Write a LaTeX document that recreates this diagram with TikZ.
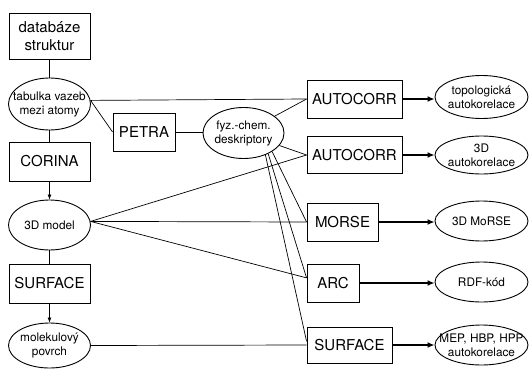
\documentclass[tikz,border=0pt]{standalone}
\usepackage{fontspec}
\setmainfont{TeX Gyre Heros}
\usetikzlibrary{arrows.meta, shapes.geometric}
\tikzstyle{box_node} = [
    rectangle, 
    draw=black, 
    line width=0.9pt, 
    align=center, 
    inner sep=0pt, 
    font=\fontsize{15}{18}\selectfont
]
\tikzstyle{ell_node} = [
    ellipse, 
    draw=black, 
    line width=0.9pt, 
    align=center, 
    inner xsep=-14pt, % keeps the ellipse at its minimum size
    inner ysep=-4pt, 
    font=\fontsize{11.8}{14}\selectfont
]
\tikzstyle{link} = [
    line width=0.7pt
]
\tikzstyle{step_arrow} = [
    line width=0.7pt, 
    -{Latex[length=5pt, width=4pt]}
]
\tikzstyle{out_arrow} = [
    line width=1.7pt, 
    -{Latex[length=7pt, width=6pt]}
]
\begin{document}
\begin{tikzpicture}[x=1pt, y=-1pt]
\useasboundingbox (0,0) rectangle (529,369);
% left column
\node [box_node, minimum width=81pt, minimum height=46pt] (db) at (49.5,36) {databáze\\struktur};
\node [ell_node, minimum width=82pt, minimum height=52pt] (tab) at (49.5,104) {tabulka vazeb\\mezi atomy};
\node [box_node, minimum width=81pt, minimum height=39pt] (corina) at (49.5,161.5) {CORINA};
\node [ell_node, minimum width=82pt, minimum height=50pt] (model) at (49.5,225) {3D model};
\node [box_node, minimum width=81pt, minimum height=39pt] (surf_l) at (49.5,283.5) {SURFACE};
\node [ell_node, minimum width=82pt, minimum height=45pt] (povrch) at (49.5,345.5) {molekulový\\povrch};
% middle
\node [box_node, minimum width=62pt, minimum height=38pt] (petra) at (144,132) {PETRA};
\node [ell_node, minimum width=81pt, minimum height=51pt] (fyz) at (243.5,133) {fyz.-chem.\\deskriptory};
% programs
\node [box_node, minimum width=95pt, minimum height=38pt] (ac1) at (354.5,99) {AUTOCORR};
\node [box_node, minimum width=95pt, minimum height=37pt] (ac2) at (354.5,155) {AUTOCORR};
\node [box_node, minimum width=71pt, minimum height=38pt] (morse) at (342.5,222) {MORSE};
\node [box_node, minimum width=52pt, minimum height=38pt] (arc) at (333,283) {ARC};
\node [box_node, minimum width=85pt, minimum height=36pt] (surf_r) at (349.5,345) {SURFACE};
% results
\node [ell_node, minimum width=93pt, minimum height=43pt] (topo) at (481.5,97) {topologická\\autokorelace};
\node [ell_node, minimum width=93pt, minimum height=38pt] (auto3d) at (481.5,155) {3D\\autokorelace};
\node [ell_node, minimum width=93pt, minimum height=40pt] (mo3d) at (481.5,221) {3D MoRSE};
\node [ell_node, minimum width=93pt, minimum height=40pt] (rdf) at (481.5,282) {RDF-kód};
\node [ell_node, minimum width=93pt, minimum height=40pt] (mep) at (481.5,345) {MEP, HBP, HPP\\autokorelace};

\draw [link] (db) -- (tab);
\draw [link] (tab) -- (corina);
\draw [step_arrow] (corina) -- (model);
\draw [link] (model) -- (surf_l);
\draw [step_arrow] (surf_l) -- (povrch);

\draw [link] (tab.5) -- (ac1.west);
\draw [link] (tab.5) -- (petra.west);
\draw [link] (petra.east) -- (petra.east -| fyz.west);
\draw [link] (fyz) -- (ac1.west);
\draw [link] (fyz) -- (ac2.west);
\draw [link] (model.5) -- (ac2.west);
\draw [link] (model.5) -- (morse.west);
\draw [link] (model.5) -- (arc.169);
\draw [link] (fyz.-33) -- (morse.west);
\draw [link] (fyz.-40) -- (arc.169);
\draw [link] (fyz.-45) -- (surf_r.175);
\draw [link] (povrch.east) -- (surf_r.west);

\draw [out_arrow] (ac1.east) -- (ac1.east -| topo.west);
\draw [out_arrow] (ac2.east) -- (auto3d.west);
\draw [out_arrow] (morse.east) -- (morse.east -| mo3d.west);
\draw [out_arrow] (arc.east) -- (arc.east -| rdf.west);
\draw [out_arrow] (surf_r.east) -- (mep.west);
\end{tikzpicture}
\end{document}
